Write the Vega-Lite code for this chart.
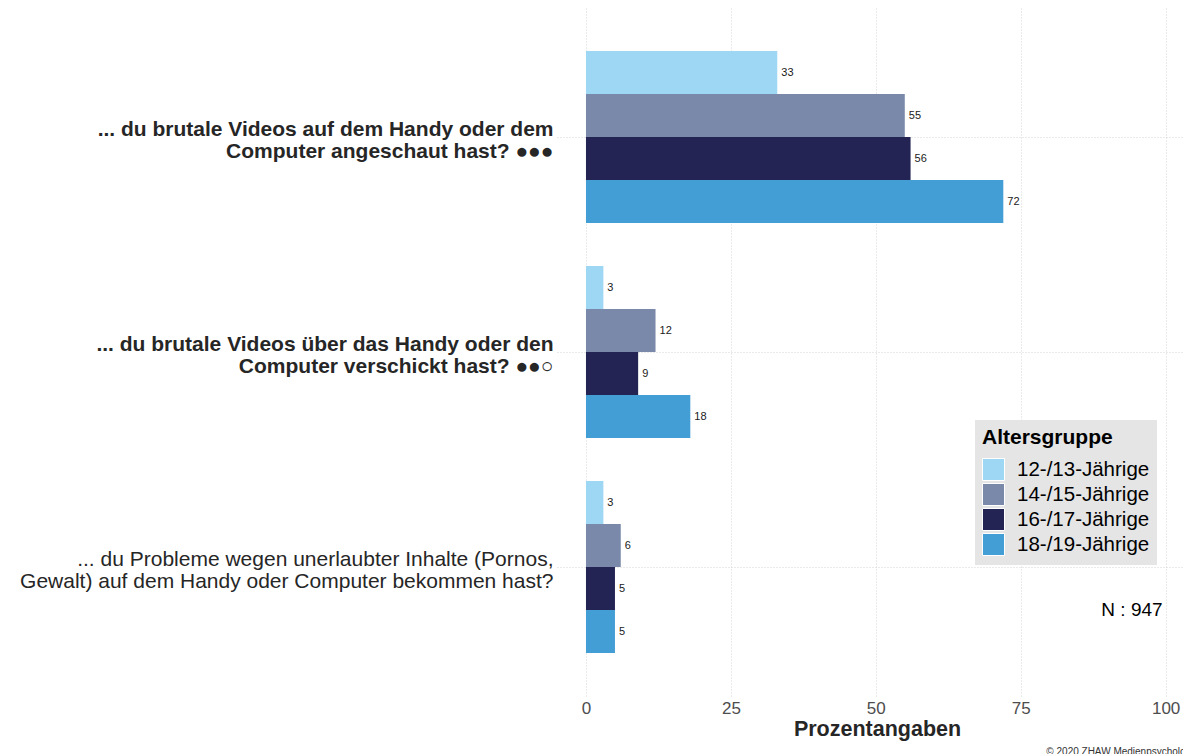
{
  "$schema": "https://vega.github.io/schema/vega-lite/v6.json",
  "autosize": {"type": "none"},
  "padding": {"left": 557, "top": 8, "right": 0, "bottom": 58},
  "width": 626,
  "height": 688,
  "background": "white",
  "title": {"text": "© 2020 ZHAW Medienpsychologie", "orient": "bottom", "anchor": "end", "fontSize": 10, "fontWeight": "normal", "color": "#333333", "offset": 7, "dx": 16},
  "config": {
    "font": "Liberation Sans",
    "view": {"stroke": null},
    "legend": {
      "orient": "none", "legendX": 418, "legendY": 412,
      "fillColor": "#E5E5E5", "padding": 7,
      "titleFontSize": 21, "titleFontWeight": "bold", "titleColor": "black", "titlePadding": 10,
      "labelFontSize": 20.5, "labelColor": "black", "labelOffset": 12,
      "symbolType": "square", "symbolSize": 484, "symbolStrokeColor": "white", "symbolStrokeWidth": 1, "symbolOpacity": 1,
      "rowPadding": -3.7
    }
  },
  "datasets": {
    "main": [
      {"frage": "... du brutale Videos auf dem Handy oder dem|Computer angeschaut hast? ●●●", "alter": "12-/13-Jährige", "wert": 33},
      {"frage": "... du brutale Videos auf dem Handy oder dem|Computer angeschaut hast? ●●●", "alter": "14-/15-Jährige", "wert": 55},
      {"frage": "... du brutale Videos auf dem Handy oder dem|Computer angeschaut hast? ●●●", "alter": "16-/17-Jährige", "wert": 56},
      {"frage": "... du brutale Videos auf dem Handy oder dem|Computer angeschaut hast? ●●●", "alter": "18-/19-Jährige", "wert": 72},
      {"frage": "... du brutale Videos über das Handy oder den|Computer verschickt hast? ●●○", "alter": "12-/13-Jährige", "wert": 3},
      {"frage": "... du brutale Videos über das Handy oder den|Computer verschickt hast? ●●○", "alter": "14-/15-Jährige", "wert": 12},
      {"frage": "... du brutale Videos über das Handy oder den|Computer verschickt hast? ●●○", "alter": "16-/17-Jährige", "wert": 9},
      {"frage": "... du brutale Videos über das Handy oder den|Computer verschickt hast? ●●○", "alter": "18-/19-Jährige", "wert": 18},
      {"frage": "... du Probleme wegen unerlaubter Inhalte (Pornos,|Gewalt) auf dem Handy oder Computer bekommen hast?", "alter": "12-/13-Jährige", "wert": 3},
      {"frage": "... du Probleme wegen unerlaubter Inhalte (Pornos,|Gewalt) auf dem Handy oder Computer bekommen hast?", "alter": "14-/15-Jährige", "wert": 6},
      {"frage": "... du Probleme wegen unerlaubter Inhalte (Pornos,|Gewalt) auf dem Handy oder Computer bekommen hast?", "alter": "16-/17-Jährige", "wert": 5},
      {"frage": "... du Probleme wegen unerlaubter Inhalte (Pornos,|Gewalt) auf dem Handy oder Computer bekommen hast?", "alter": "18-/19-Jährige", "wert": 5}
    ],
    "note": [
      {"frage": "... du Probleme wegen unerlaubter Inhalte (Pornos,|Gewalt) auf dem Handy oder Computer bekommen hast?", "wert": 100, "label": "N : 947"}
    ]
  },
  "encoding": {
    "y": {
      "field": "frage", "type": "nominal",
      "sort": [
        "... du brutale Videos auf dem Handy oder dem|Computer angeschaut hast? ●●●",
        "... du brutale Videos über das Handy oder den|Computer verschickt hast? ●●○",
        "... du Probleme wegen unerlaubter Inhalte (Pornos,|Gewalt) auf dem Handy oder Computer bekommen hast?"
      ],
      "scale": {"paddingInner": 0.2, "paddingOuter": 0.2},
      "axis": {
        "title": null, "domain": false, "ticks": false, "labelPadding": 4,
        "labelFontSize": 21, "labelColor": "#262626", "labelLimit": 0,
        "labelExpr": "split(datum.label, '|')", "labelLineHeight": 22,
        "labelBaseline": "alphabetic", "labelOffset": -1,
        "labelFontWeight": {"condition": {"test": "indexof(datum.value, 'Probleme') < 0", "value": "bold"}, "value": "normal"},
        "grid": true, "bandPosition": 0.5, "gridDash": [1, 2], "gridColor": "#D4D4D4"
      }
    },
    "x": {
      "field": "wert", "type": "quantitative",
      "scale": {"domain": [-5, 103], "nice": false, "zero": false},
      "axis": {
        "title": "Prozentangaben", "titleFontSize": 21.5, "titleFontWeight": "bold", "titleColor": "#262626", "titleX": 320, "titlePadding": 2,
        "labelFontSize": 17, "labelColor": "#4D4D4D", "labelPadding": 4,
        "domain": false, "ticks": false, "values": [0, 25, 50, 75, 100],
        "grid": true, "gridDash": [1, 2], "gridColor": "#D4D4D4"
      }
    }
  },
  "layer": [
    {
      "data": {"name": "main"},
      "mark": {"type": "bar"},
      "encoding": {
        "yOffset": {"field": "alter", "type": "nominal", "sort": ["12-/13-Jährige", "14-/15-Jährige", "16-/17-Jährige", "18-/19-Jährige"], "scale": {"paddingInner": 0, "paddingOuter": 0}},
        "x2": {"datum": 0},
        "color": {
          "field": "alter", "type": "nominal", "title": "Altersgruppe",
          "scale": {"domain": ["12-/13-Jährige", "14-/15-Jährige", "16-/17-Jährige", "18-/19-Jährige"], "range": ["#9DD7F4", "#7A89AA", "#232453", "#449ED6"]}
        }
      }
    },
    {
      "data": {"name": "main"},
      "mark": {"type": "text", "align": "left", "baseline": "middle", "dx": 4, "fontSize": 11, "color": "#1a1a1a"},
      "encoding": {
        "yOffset": {"field": "alter", "type": "nominal", "sort": ["12-/13-Jährige", "14-/15-Jährige", "16-/17-Jährige", "18-/19-Jährige"], "scale": {"paddingInner": 0, "paddingOuter": 0}},
        "text": {"field": "wert", "type": "quantitative"}
      }
    },
    {
      "data": {"name": "note"},
      "mark": {"type": "text", "align": "right", "baseline": "middle", "dx": -3, "dy": 43, "fontSize": 19, "color": "black"},
      "encoding": {
        "text": {"field": "label", "type": "nominal"}
      }
    }
  ]
}
